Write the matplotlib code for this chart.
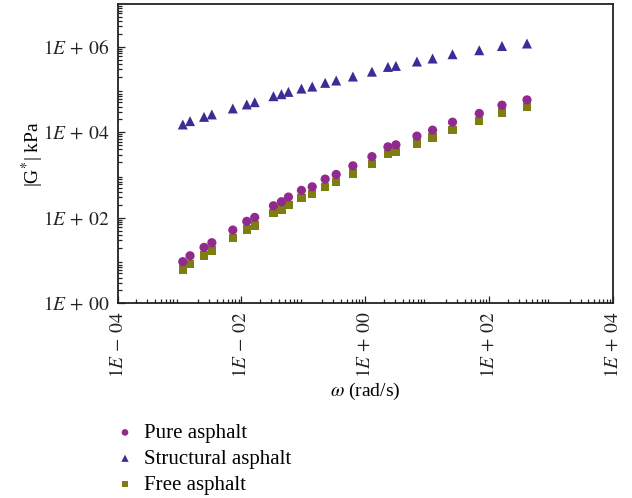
import matplotlib
matplotlib.use("Agg")
import matplotlib.pyplot as plt
from matplotlib.ticker import LogLocator, FixedLocator, NullFormatter

plt.rcParams["font.family"] = ["Liberation Serif", "DejaVu Serif"]
plt.rcParams["mathtext.fontset"] = "stix"

# Angular frequency (rad/s)
omega = [0.00113, 0.00148, 0.00249, 0.00333, 0.00726, 0.0122, 0.0164, 0.0329,
         0.0443, 0.0574, 0.0931, 0.139, 0.225, 0.339, 0.631, 1.28, 2.32, 3.12,
         6.82, 12.2, 25.6, 69.2, 161, 408]

# Complex modulus |G*| (kPa)
pure = [9.4, 12.9, 20.3, 26.1, 51.6, 82.4, 102, 191, 237, 305, 437, 530, 802,
        1030, 1640, 2690, 4560, 5080, 8110, 11200, 17200, 27500, 43000, 57100]
structural = [15200, 18200, 22900, 26100, 36000, 44700, 50500, 69700, 77600,
              87900, 105000, 117000, 143000, 162000, 201000, 261000, 337000,
              356000, 451000, 530000, 668000, 828000, 1040000, 1190000]
free = [6.2, 8.4, 13.2, 17.3, 34.1, 53.6, 66.4, 127, 157, 201, 288, 358, 530,
        682, 1090, 1780, 3080, 3430, 5470, 7570, 11400, 18200, 29000, 38500]

series_names = ["Pure asphalt", "Structural asphalt", "Free asphalt"]
x_ticks = [1e-4, 1e-2, 1e0, 1e2, 1e4]
x_tick_labels = [r"$1E\,-\,04$", r"$1E\,-\,02$", r"$1E\,+\,00$", r"$1E\,+\,02$", r"$1E\,+\,04$"]
y_ticks = [1e0, 1e2, 1e4, 1e6]
y_tick_labels = [r"$1E\,+\,00$", r"$1E\,+\,02$", r"$1E\,+\,04$", r"$1E\,+\,06$"]

fig = plt.figure(figsize=(6.32, 4.98), dpi=100)
ax = fig.add_axes([0.186, 0.391, 0.784, 0.601])

ax.scatter(omega, pure, marker="o", s=44, color="#912A8E", edgecolors="none",
           label=series_names[0], zorder=3)
ax.scatter(omega, structural, marker="^", s=52, color="#3A2E96", edgecolors="none",
           label=series_names[1], zorder=3)
ax.scatter(omega, free, marker="s", s=36, color="#7D7D12", edgecolors="none",
           label=series_names[2], zorder=2)

ax.set_xscale("log")
ax.set_yscale("log")
ax.set_xlim(1e-4, 1e4)
ax.set_ylim(1e0, 1e7)

ax.xaxis.set_major_locator(FixedLocator(x_ticks))
ax.set_xticklabels(x_tick_labels, rotation=90, fontsize=14)
ax.xaxis.set_minor_locator(LogLocator(base=10, subs=range(2, 10), numticks=100))
ax.xaxis.set_minor_formatter(NullFormatter())

ax.yaxis.set_major_locator(FixedLocator(y_ticks))
ax.set_yticklabels(y_tick_labels, fontsize=14)
ax.yaxis.set_minor_locator(LogLocator(base=10, subs=range(2, 10), numticks=100))
ax.yaxis.set_minor_formatter(NullFormatter())

ax.tick_params(which="both", direction="in", top=False, right=False, width=0.9,
               colors="#222222")
ax.tick_params(which="major", length=5, pad=6)
ax.tick_params(which="minor", length=3)

for sp in ax.spines.values():
    sp.set_linewidth(1.3)
    sp.set_color("#222222")

ax.set_xlabel(r"$\omega$ (rad/s)", fontsize=14, labelpad=2)
ax.set_ylabel(r"|G$^{*}$| kPa", fontsize=14, labelpad=-2)

# legend below the x-axis label, left aligned with the axes
fig.legend(loc="upper left", bbox_to_anchor=(0.178, 0.150), frameon=False,
           fontsize=15, handletextpad=0.3, labelspacing=0.3, markerscale=0.72,
           borderaxespad=0, borderpad=0, handlelength=1.2)

fig.savefig("out.png", dpi=100)
